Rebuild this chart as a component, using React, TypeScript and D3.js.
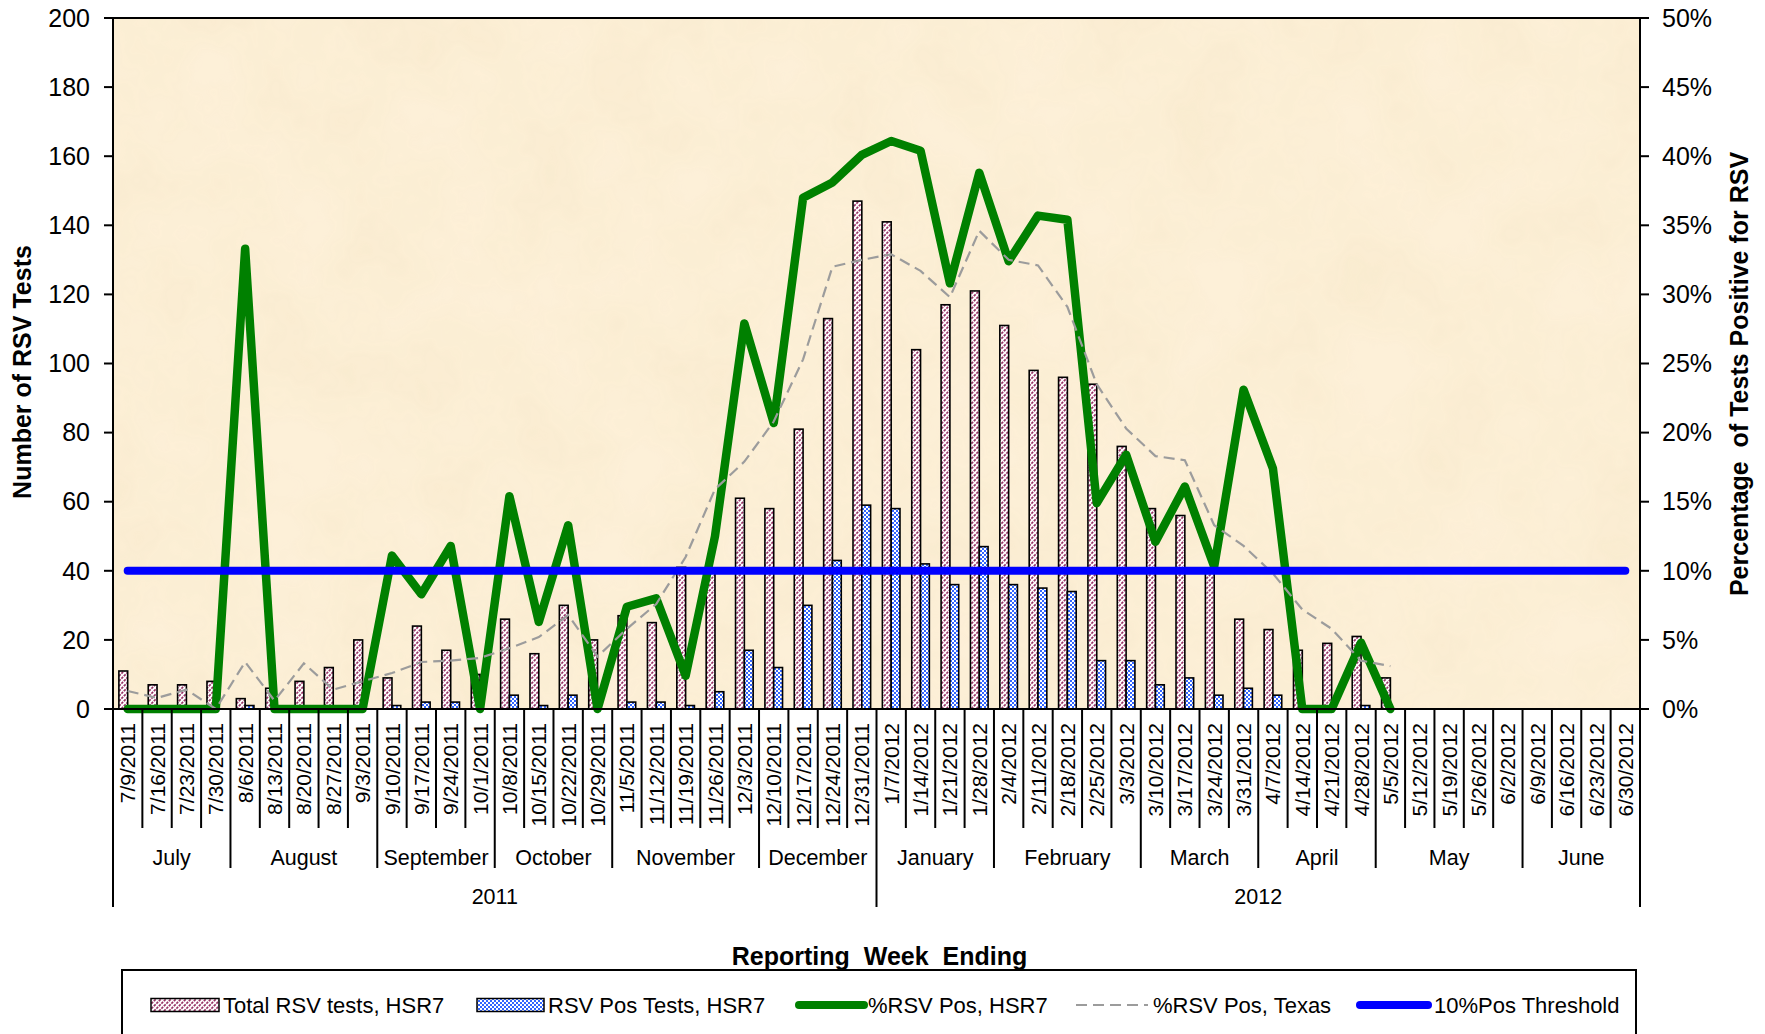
import React from 'react';
import * as d3 from 'd3';

// ---------- DATA ----------
const weekLabels = [
  '7/9/2011', '7/16/2011', '7/23/2011', '7/30/2011', '8/6/2011', '8/13/2011', '8/20/2011', '8/27/2011', '9/3/2011',
  '9/10/2011', '9/17/2011', '9/24/2011', '10/1/2011', '10/8/2011', '10/15/2011', '10/22/2011', '10/29/2011',
  '11/5/2011', '11/12/2011', '11/19/2011', '11/26/2011', '12/3/2011', '12/10/2011', '12/17/2011', '12/24/2011', '12/31/2011',
  '1/7/2012', '1/14/2012', '1/21/2012', '1/28/2012', '2/4/2012', '2/11/2012', '2/18/2012', '2/25/2012', '3/3/2012',
  '3/10/2012', '3/17/2012', '3/24/2012', '3/31/2012', '4/7/2012', '4/14/2012', '4/21/2012', '4/28/2012',
  '5/5/2012', '5/12/2012', '5/19/2012', '5/26/2012', '6/2/2012', '6/9/2012', '6/16/2012', '6/23/2012', '6/30/2012',
];
const monthNames = ['July', 'August', 'September', 'October', 'November', 'December', 'January', 'February', 'March', 'April', 'May', 'June'];
const monthWeekCounts = [4, 5, 4, 4, 5, 4, 4, 5, 4, 4, 5, 4];
const yearLabels = ['2011', '2012'];
const yearWeekCounts = [26, 26];

const totalTests: (number | null)[] = [
  11, 7, 7, 8, 3, 6, 8, 12, 20, 9, 24, 17, 10, 26, 16, 30, 20, 27, 25, 41, 40, 61, 58, 81, 113, 147,
  141, 104, 117, 121, 111, 98, 96, 94, 76, 58, 56, 40, 26, 23, 17, 19, 21, 9, null, null, null, null, null, null, null, null,
];
const posTests: (number | null)[] = [
  0, 0, 0, 0, 1, 0, 0, 0, 0, 1, 2, 2, 0, 4, 1, 4, 0, 2, 2, 1, 5, 17, 12, 30, 43, 59,
  58, 42, 36, 47, 36, 35, 34, 14, 14, 7, 9, 4, 6, 4, 0, 0, 1, 0, null, null, null, null, null, null, null, null,
];
const pctPosHSR7: (number | null)[] = [
  0, 0, 0, 0, 33.3, 0, 0, 0, 0, 11.1, 8.3, 11.8, 0, 15.4, 6.3, 13.3, 0, 7.4, 8.0, 2.4, 12.5, 27.9, 20.7, 37.0, 38.1, 40.1,
  41.1, 40.4, 30.8, 38.8, 32.4, 35.7, 35.4, 14.9, 18.4, 12.1, 16.1, 10.3, 23.1, 17.4, 0, 0, 4.8, 0, null, null, null, null, null, null, null, null,
];
const pctPosTexas: (number | null)[] = [
  1.3, 0.8, 1.4, 0.0, 3.4, 0.6, 3.3, 1.4, 2.0, 2.6, 3.4, 3.5, 3.7, 4.4, 5.2, 6.8, 3.8, 5.8, 7.6, 11.0, 15.9, 17.9, 20.8, 25.3, 32.0, 32.5,
  32.9, 31.7, 29.8, 34.6, 32.5, 32.1, 29.1, 23.5, 20.3, 18.3, 18.0, 13.3, 11.8, 9.8, 7.2, 5.8, 3.5, 3.1, null, null, null, null, null, null, null, null,
];
const thresholdPct = 10;

const leftTicks = [0, 20, 40, 60, 80, 100, 120, 140, 160, 180, 200];
const rightTicks = [0, 5, 10, 15, 20, 25, 30, 35, 40, 45, 50];

const legendLabels = ['Total RSV tests, HSR7', 'RSV Pos Tests, HSR7', '%RSV Pos, HSR7', '%RSV Pos, Texas', '10%Pos Threshold'];

// ---------- LAYOUT ----------
const W = 1765;
const H = 1034;
const PL = 113;
const PR = 1640;
const PT = 18;
const PB = 709;
const FONT = 'Liberation Sans, Arial, Helvetica, sans-serif';

const GREEN = '#008000';
const BLUE = '#0000FF';
const GRAY = '#9c9c9c';
const MAROON = '#993366';
const CHECK = '#3366FF';

export default function App() {
  const idx = d3.range(weekLabels.length);
  const x = d3.scaleBand<number>().domain(idx).range([PL, PR]).padding(0);
  const bw = x.bandwidth();
  const sub = d3.scaleBand<string>().domain(['total', 'pos']).range([0.2 * bw, 0.8 * bw]).padding(0);
  const yL = d3.scaleLinear().domain([0, 200]).range([PB, PT]);
  const yR = d3.scaleLinear().domain([0, 50]).range([PB, PT]);
  const cx = (i: number) => (x(i) as number) + bw / 2;

  const line = d3
    .line<number | null>()
    .defined((d) => d != null)
    .x((_, i) => cx(i))
    .y((d) => yR(d as number));

  const thresholdData = idx.map(() => thresholdPct);

  const monthBounds = new Set<number>();
  let acc = 0;
  monthBounds.add(0);
  const monthRanges: [number, number][] = [];
  monthWeekCounts.forEach((c) => {
    monthRanges.push([acc, acc + c]);
    acc += c;
    monthBounds.add(acc);
  });
  const yearBounds = new Set<number>();
  const yearRanges: [number, number][] = [];
  acc = 0;
  yearBounds.add(0);
  yearWeekCounts.forEach((c) => {
    yearRanges.push([acc, acc + c]);
    acc += c;
    yearBounds.add(acc);
  });
  const bx = (k: number) => PL + k * bw;

  const legendY = 1005;
  const LF = 22;

  return (
    <svg
      width={W}
      height={H}
      viewBox={`0 0 ${W} ${H}`}
      style={{ position: 'absolute', left: 0, top: 0, background: '#ffffff' }}
      fontFamily={FONT}
    >
      <defs>
        <pattern id="hatch" patternUnits="userSpaceOnUse" width="5" height="5">
          <rect width="5" height="5" fill="#ffffff" />
          <path d="M-1,6 L6,-1 M-3.5,3.5 L3.5,-3.5 M1.5,8.5 L8.5,1.5" stroke={MAROON} strokeWidth="1.7" strokeDasharray="2.4,1" />
        </pattern>
        <pattern id="check" patternUnits="userSpaceOnUse" width="4" height="4">
          <rect width="4" height="4" fill={CHECK} />
          <rect x="0" y="0" width="2" height="2" fill="#ffffff" />
          <rect x="2" y="2" width="2" height="2" fill="#ffffff" />
        </pattern>
        <filter id="paper" x="0" y="0" width="100%" height="100%">
          <feTurbulence type="fractalNoise" baseFrequency="0.012" numOctaves="4" seed="3" result="n" />
          <feColorMatrix
            in="n"
            type="matrix"
            values="0 0 0 0 0.85  0 0 0 0 0.72  0 0 0 0 0.45  0 0 0 0.35 -0.08"
          />
        </filter>
      </defs>

      {/* plot background */}
      <rect x={PL} y={PT} width={PR - PL} height={PB - PT} fill="#fdf0d8" />
      <rect x={PL} y={PT} width={PR - PL} height={PB - PT} filter="url(#paper)" opacity={0.9} />

      {/* bars */}
      {idx.map((i) =>
        totalTests[i] != null && (totalTests[i] as number) > 0 ? (
          <rect
            key={'t' + i}
            x={(x(i) as number) + (sub('total') as number)}
            y={yL(totalTests[i] as number)}
            width={sub.bandwidth()}
            height={PB - yL(totalTests[i] as number)}
            fill="url(#hatch)"
            stroke="#000"
            strokeWidth={1.6}
          />
        ) : null
      )}
      {idx.map((i) =>
        posTests[i] != null && (posTests[i] as number) > 0 ? (
          <rect
            key={'p' + i}
            x={(x(i) as number) + (sub('pos') as number)}
            y={yL(posTests[i] as number)}
            width={sub.bandwidth()}
            height={PB - yL(posTests[i] as number)}
            fill="url(#check)"
            stroke="#000"
            strokeWidth={1.6}
          />
        ) : null
      )}

      {/* lines */}
      <path d={line(pctPosHSR7) || ''} fill="none" stroke={GREEN} strokeWidth={8.5} strokeLinejoin="round" strokeLinecap="round" />
      <path d={line(pctPosTexas) || ''} fill="none" stroke={GRAY} strokeWidth={2.2} strokeDasharray="11,6" />
      <path d={line(thresholdData) || ''} fill="none" stroke={BLUE} strokeWidth={8} strokeLinecap="round" />

      {/* plot border */}
      <line x1={PL} x2={PR} y1={PT} y2={PT} stroke="#000" strokeWidth={2} />
      <line x1={PL} x2={PR} y1={PB} y2={PB} stroke="#000" strokeWidth={2} />
      <line x1={PL} x2={PL} y1={PT} y2={907} stroke="#000" strokeWidth={2} />
      <line x1={PR} x2={PR} y1={PT} y2={907} stroke="#000" strokeWidth={2} />

      {/* left axis */}
      {leftTicks.map((t) => (
        <g key={'lt' + t}>
          <line x1={104} x2={PL} y1={yL(t)} y2={yL(t)} stroke="#000" strokeWidth={2} />
          <text x={90} y={yL(t)} dy="0.35em" textAnchor="end" fontSize={25} fill="#000">
            {d3.format('d')(t)}
          </text>
        </g>
      ))}
      {/* right axis */}
      {rightTicks.map((t) => (
        <g key={'rt' + t}>
          <line x1={PR} x2={1649} y1={yR(t)} y2={yR(t)} stroke="#000" strokeWidth={2} />
          <text x={1662} y={yR(t)} dy="0.35em" textAnchor="start" fontSize={25} fill="#000">
            {t + '%'}
          </text>
        </g>
      ))}

      {/* category separators */}
      {d3.range(weekLabels.length + 1).map((k) => {
        if (k === 0 || k === weekLabels.length) return null;
        const y2 = yearBounds.has(k) ? 907 : monthBounds.has(k) ? 868 : 828;
        return <line key={'sep' + k} x1={bx(k)} x2={bx(k)} y1={PB} y2={y2} stroke="#000" strokeWidth={2} />;
      })}

      {/* week labels */}
      {idx.map((i) => (
        <text
          key={'wl' + i}
          transform={`translate(${cx(i)},723) rotate(-90)`}
          dy="0.36em"
          textAnchor="end"
          fontSize={21}
          fill="#000"
        >
          {weekLabels[i]}
        </text>
      ))}

      {/* month labels */}
      {monthRanges.map(([a, b], j) => (
        <text key={'m' + j} x={(bx(a) + bx(b)) / 2} y={857} dy="0.35em" textAnchor="middle" fontSize={21.5} fill="#000">
          {monthNames[j]}
        </text>
      ))}

      {/* year labels */}
      {yearRanges.map(([a, b], j) => (
        <text key={'y' + j} x={(bx(a) + bx(b)) / 2} y={896} dy="0.35em" textAnchor="middle" fontSize={21.5} fill="#000">
          {yearLabels[j]}
        </text>
      ))}

      {/* axis titles */}
      <text x={(PL + PR) / 2 + 3} y={956} dy="0.35em" textAnchor="middle" fontSize={25} fontWeight="bold" fill="#000" style={{ whiteSpace: 'pre' }}>
        {'Reporting  Week  Ending'}
      </text>
      <text transform="translate(22,372) rotate(-90)" dy="0.35em" textAnchor="middle" fontSize={25} fontWeight="bold" fill="#000">
        Number of RSV Tests
      </text>
      <text transform="translate(1739,374) rotate(-90)" dy="0.35em" textAnchor="middle" fontSize={25} fontWeight="bold" fill="#000" style={{ whiteSpace: 'pre' }}>
        {'Percentage  of Tests Positive for RSV'}
      </text>

      {/* legend */}
      <rect x={122} y={970} width={1636 - 122} height={120} fill="#ffffff" stroke="#000" strokeWidth={2} />
      <rect x={151} y={legendY - 6.5} width={68} height={13} fill="url(#hatch)" stroke="#000" strokeWidth={1.5} />
      <text x={223} y={legendY} dy="0.35em" fontSize={LF} fill="#000">{legendLabels[0]}</text>
      <rect x={477} y={legendY - 6.5} width={67} height={13} fill="url(#check)" stroke="#000" strokeWidth={1.5} />
      <text x={548} y={legendY} dy="0.35em" fontSize={LF} fill="#000">{legendLabels[1]}</text>
      <line x1={799} x2={864} y1={legendY} y2={legendY} stroke={GREEN} strokeWidth={8} strokeLinecap="round" />
      <text x={868} y={legendY} dy="0.35em" fontSize={LF} fill="#000">{legendLabels[2]}</text>
      <line x1={1076} x2={1148} y1={legendY} y2={legendY} stroke={GRAY} strokeWidth={2.2} strokeDasharray="11,6" />
      <text x={1153} y={legendY} dy="0.35em" fontSize={LF} fill="#000">{legendLabels[3]}</text>
      <line x1={1360} x2={1428} y1={legendY} y2={legendY} stroke={BLUE} strokeWidth={8} strokeLinecap="round" />
      <text x={1434} y={legendY} dy="0.35em" fontSize={LF} fill="#000">{legendLabels[4]}</text>
    </svg>
  );
}
